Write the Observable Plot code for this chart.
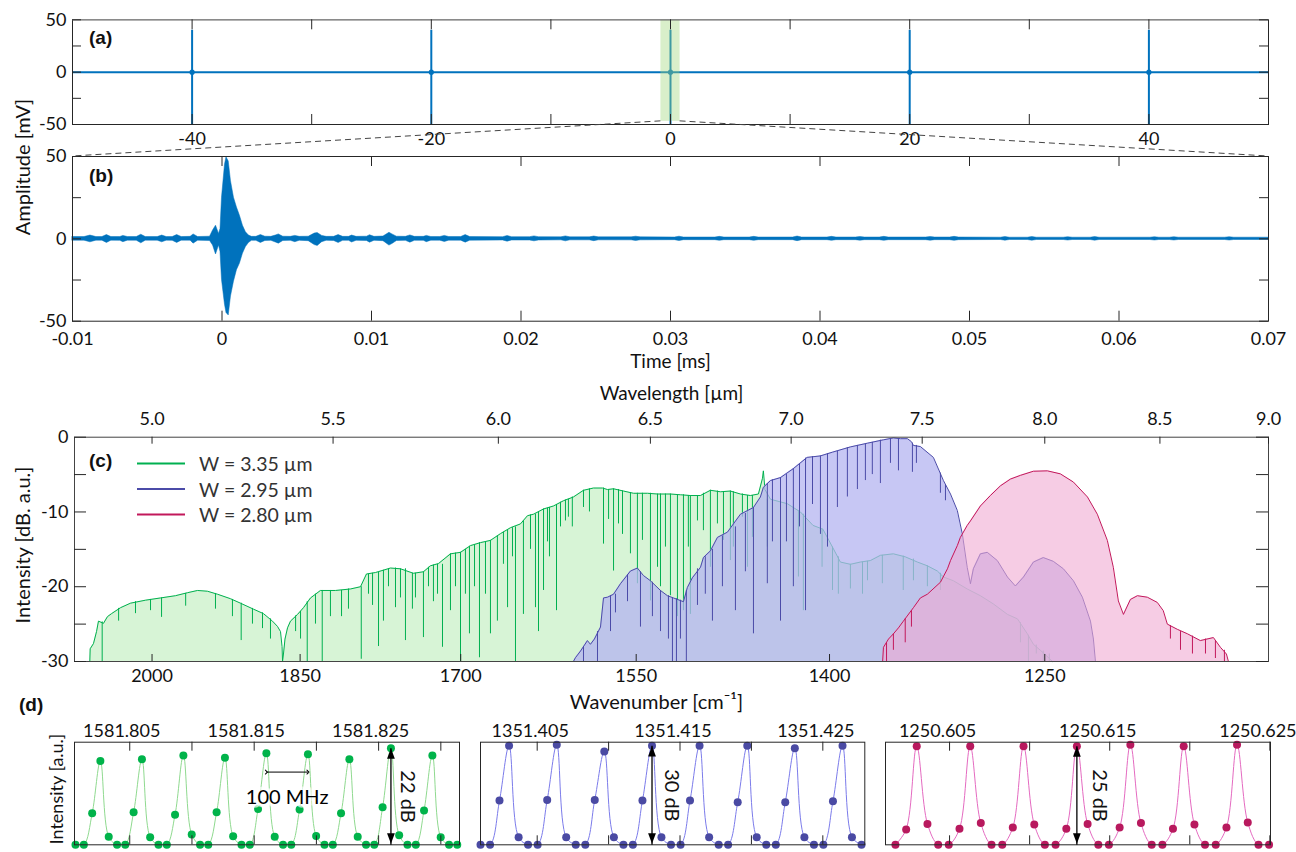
<!DOCTYPE html>
<html><head><meta charset="utf-8">
<script src="https://cdn.jsdelivr.net/npm/d3@7"></script>
<script src="https://cdn.jsdelivr.net/npm/@observablehq/plot@0.6"></script>
<style>
html,body{margin:0;padding:0;background:#fff;}
#fig{position:relative;width:1296px;height:852px;overflow:hidden;font-family:Lato,sans-serif;background:#fff;}
</style></head><body><div id="fig"></div>
<script>
// ================= DATA =================
// (a) overview of the pulse train
const pulseTimes = [-40, -20, 0, 20, 40];
const pulseHigh = [40, 40, 40, 40, 40];
const pulseLow = [-50, -50, -50, -50, -50];
const zoomWindow = [-0.8, 0.8];
const zoomBandLow = -47;
const overviewDomain = [-50, 50];
const overviewTicks = [-40, -30, -20, -10, 0, 10, 20, 30, 40];
const overviewLabels = [-40, -20, 0, 20, 40];
const ampDomain = [-50, 50];
const ampTicks = [-50, -25, 0, 25, 50];
const ampLabels = [-50, 0, 50];

// (b) single interferogram: envelope [time ms, upper mV, lower mV]
const timeDomain = [-0.01, 0.07];
const timeTicks = [-0.01, 0, 0.01, 0.02, 0.03, 0.04, 0.05, 0.06, 0.07];
const waveEnvelope = [
  [-0.0100, 1.1, -1.1], [-0.0092, 1.1, -1.1], [-0.0088, 2.0, -2.1], [-0.0084, 1.1, -1.1],
  [-0.0080, 1.1, -1.1], [-0.0077, 2.3, -2.5], [-0.0074, 1.1, -1.1], [-0.0068, 1.1, -1.2],
  [-0.0066, 1.8, -2.0], [-0.0063, 1.1, -1.1], [-0.0057, 1.1, -1.1], [-0.0054, 2.5, -2.7],
  [-0.0051, 1.1, -1.1], [-0.0043, 1.1, -1.1], [-0.0040, 2.0, -2.1], [-0.0037, 1.1, -1.1],
  [-0.0033, 1.1, -1.2], [-0.0030, 2.3, -2.5], [-0.0027, 1.1, -1.1], [-0.0021, 1.2, -1.1],
  [-0.0019, 2.7, -2.9], [-0.0016, 1.1, -1.1], [-0.0008, 1.3, -1.3], [-0.0006, 5, -4],
  [-0.0004, 8, -9.5], [-0.0002, 3, -4], [-0.0001, 6, -8], [0.0000, 25, -25],
  [0.0002, 45, -40], [0.0003, 49.5, -45], [0.00045, 47, -46.5], [0.0006, 35, -35],
  [0.0008, 25, -26], [0.0010, 19, -19], [0.0012, 14, -15], [0.0014, 8, -9],
  [0.0016, 4, -5], [0.0018, 2, -2.5], [0.0020, 1.2, -1.2], [0.0023, 1.2, -1.2],
  [0.0026, 2.3, -2.5], [0.0029, 1.3, -1.3], [0.0033, 1.2, -1.2], [0.0036, 2.0, -2.2],
  [0.0038, 2.7, -2.9], [0.0041, 1.3, -1.3], [0.0046, 1.2, -1.2], [0.0049, 1.8, -2.0],
  [0.0052, 1.2, -1.2], [0.0058, 1.3, -1.4], [0.0062, 3.2, -3.8], [0.0064, 3.5, -4.3],
  [0.0067, 1.8, -2.0], [0.0070, 1.2, -1.2], [0.0075, 1.2, -1.3], [0.0078, 2.3, -2.5],
  [0.0081, 1.2, -1.2], [0.0085, 1.2, -1.2], [0.0087, 2.0, -2.2], [0.0090, 1.2, -1.2],
  [0.0097, 1.3, -1.3], [0.0099, 2.2, -2.3], [0.0102, 1.2, -1.2], [0.0108, 1.4, -1.4],
  [0.0112, 3.7, -4.1], [0.0114, 2.7, -3.1], [0.0117, 1.3, -1.3], [0.0123, 1.2, -1.2],
  [0.0126, 2.1, -2.3], [0.0129, 1.2, -1.2], [0.0135, 1.2, -1.2], [0.0137, 1.8, -2.0],
  [0.0140, 1.1, -1.1], [0.0146, 1.1, -1.1], [0.0149, 1.8, -1.9], [0.0152, 1.1, -1.1],
  [0.0160, 1.1, -1.1], [0.0163, 2.3, -2.3], [0.0166, 1.1, -1.1], [0.0188, 1.0, -1.0],
  [0.0191, 1.7, -1.7], [0.0194, 1.0, -1.0], [0.0206, 1.0, -1.0], [0.0209, 1.5, -1.5],
  [0.0212, 1.0, -1.0], [0.0227, 0.9, -0.9], [0.0230, 1.5, -1.5], [0.0233, 0.9, -0.9],
  [0.0246, 0.9, -0.9], [0.0249, 1.4, -1.4], [0.0252, 0.9, -0.9], [0.0274, 0.9, -0.9],
  [0.0277, 1.3, -1.3], [0.0280, 0.9, -0.9], [0.0303, 0.8, -0.8], [0.0306, 1.3, -1.3],
  [0.0309, 0.8, -0.8], [0.0330, 0.8, -0.8], [0.0333, 1.2, -1.2], [0.0336, 0.8, -0.8],
  [0.0353, 0.8, -0.8], [0.0356, 1.2, -1.2], [0.0359, 0.8, -0.8], [0.0382, 0.8, -0.8],
  [0.0385, 1.4, -1.4], [0.0388, 0.8, -0.8], [0.0405, 0.8, -0.8], [0.0408, 1.2, -1.2],
  [0.0411, 0.8, -0.8], [0.0424, 0.8, -0.8], [0.0427, 1.1, -1.1], [0.0430, 0.8, -0.8],
  [0.0440, 0.8, -0.8], [0.0443, 1.2, -1.2], [0.0446, 0.8, -0.8], [0.0471, 0.8, -0.8],
  [0.0474, 1.1, -1.1], [0.0477, 0.8, -0.8], [0.0487, 0.8, -0.8], [0.0490, 1.2, -1.2],
  [0.0493, 0.8, -0.8], [0.0521, 0.7, -0.7], [0.0524, 1.1, -1.1], [0.0527, 0.7, -0.7],
  [0.0539, 0.7, -0.7], [0.0542, 1.1, -1.1], [0.0545, 0.7, -0.7], [0.0563, 0.7, -0.7],
  [0.0566, 1.0, -1.0], [0.0569, 0.7, -0.7], [0.0581, 0.7, -0.7], [0.0584, 1.1, -1.1],
  [0.0587, 0.7, -0.7], [0.0621, 0.7, -0.7], [0.0624, 1.0, -1.0], [0.0627, 0.7, -0.7],
  [0.0634, 0.7, -0.7], [0.0637, 1.0, -1.0], [0.0640, 0.7, -0.7], [0.0671, 0.7, -0.7],
  [0.0674, 1.0, -1.0], [0.0677, 0.7, -0.7], [0.0700, 0.7, -0.7]
];

// (c) spectra: [wavenumber cm-1, intensity dB]; dips: [wavenumber, top dB, bottom dB]
const wavelengthDomain = [4.8, 9.0];
const wavelengthTicks = [5.0, 5.5, 6.0, 6.5, 7.0, 7.5, 8.0, 8.5, 9.0];
const wavenumberTicks = [2000, 1850, 1700, 1550, 1400, 1250];
const intensityDomain = [-30, 0];
const intensityTicks = [0, -5, -10, -15, -20, -25, -30];
const intensityLabels = [0, -10, -20, -30];
const seriesNames = ["W = 3.35 µm", "W = 2.95 µm", "W = 2.80 µm"];

const greenSpectrum = [
  [2066.6, -30], [2066.2, -28.3], [2062.6, -27.6], [2059.3, -26.0], [2057.2, -24.6], [2051.8, -24.9],
  [2047.5, -24.0], [2043.1, -23.6], [2033.4, -22.8], [2022.8, -22.2], [2006.9, -21.8], [1991.1, -21.5],
  [1975.5, -21.2], [1963.0, -20.8], [1952.7, -20.5], [1942.5, -20.6], [1932.3, -21.0], [1919.1, -21.6],
  [1909.0, -22.2], [1896.0, -23.0], [1886.0, -23.6], [1877.1, -24.6], [1872.2, -25.3], [1869.2, -26.0],
  [1867.7, -28.0], [1867.2, -30], [1866.3, -29], [1864.8, -27], [1862.3, -25.5], [1859.4, -24.6],
  [1852.5, -23.7], [1846.7, -22.8], [1839.9, -21.5], [1830.3, -20.5], [1815.9, -20.5], [1801.6, -20.3],
  [1792.1, -20.0], [1786.5, -18.3], [1778.0, -18.1], [1764.0, -17.5], [1754.8, -17.6], [1742.9, -18.2],
  [1733.7, -18.0], [1727.3, -17.2], [1720.0, -16.9], [1709.2, -15.6], [1700.2, -15.4], [1691.3, -14.5],
  [1682.4, -14.1], [1673.6, -13.8], [1664.8, -12.9], [1656.0, -12.1], [1647.4, -11.6], [1641.3, -10.5],
  [1636.1, -10.3], [1627.5, -9.6], [1619.0, -9.2], [1610.5, -8.5], [1602.1, -8.0], [1593.6, -7.1],
  [1585.3, -6.8], [1577.7, -6.8], [1573.6, -7.0], [1568.6, -6.9], [1560.4, -7.2], [1552.2, -7.5],
  [1540.8, -7.5], [1532.7, -7.6], [1522.3, -7.6], [1514.3, -7.7], [1506.4, -7.8], [1498.4, -7.8],
  [1490.6, -7.1], [1482.7, -7.3], [1475.0, -7.2], [1467.2, -7.6], [1459.5, -7.8], [1453.4, -7.6],
  [1450.3, -5.5], [1449.6, -4.5], [1448.4, -7.0], [1444.2, -8.3], [1431.4, -8.9], [1421.6, -10.0],
  [1412.2, -11.8], [1404.9, -12.3], [1397.8, -14.7], [1392.0, -16.7], [1384.7, -17.0], [1377.4, -16.7],
  [1370.2, -16.5], [1363.0, -15.8], [1353.7, -15.6], [1345.3, -16.0], [1336.7, -16.7], [1329.7, -17.2],
  [1322.7, -17.9], [1318.5, -18.7], [1311.6, -19.2], [1302.1, -20.3], [1293.1, -21.2], [1284.3, -22.3],
  [1274.8, -23.7], [1268.1, -24.3], [1261.5, -26.3], [1257.5, -27.7], [1252.9, -28.5], [1249.0, -29.2],
  [1245.0, -30]
];
const greenDips = [
  [2053.2, -24.7, -30], [2035.5, -22.9, -24.6], [2017.5, -22.0, -23.6], [2001.6, -21.7, -23.2],
  [1990.0, -21.5, -24.1], [1964.9, -20.9, -22.6], [1934.3, -20.9, -23.0], [1917.1, -21.7, -24.0],
  [1908.3, -22.2, -27.2], [1897.0, -22.9, -25.0], [1887.0, -23.5, -25.6], [1879.1, -24.3, -27.0],
  [1854.4, -23.9, -26.0], [1849.6, -23.3, -27.0], [1843.1, -22.0, -30], [1835.1, -21.0, -25.0],
  [1828.6, -20.5, -30], [1820.7, -20.5, -24.0], [1810.1, -20.5, -24.0], [1803.5, -20.3, -23.0],
  [1791.4, -20.0, -29.7], [1784.6, -18.3, -21.0], [1780.8, -18.2, -22.5], [1775.2, -18.1, -28.0],
  [1770.6, -17.8, -24.6], [1765.9, -17.6, -20.0], [1759.4, -17.5, -22.8], [1754.8, -17.6, -21.5],
  [1750.2, -17.6, -27.2], [1743.8, -18.2, -23.0], [1741.0, -18.2, -21.5], [1733.7, -18.0, -26.8],
  [1729.1, -17.4, -20.0], [1724.6, -17.1, -22.0], [1720.9, -17.0, -21.0], [1716.4, -17.0, -28.1],
  [1709.2, -15.6, -23.2], [1704.7, -15.5, -20.0], [1700.2, -15.4, -30], [1695.8, -15.0, -21.0],
  [1692.2, -14.6, -26.3], [1687.7, -14.4, -20.0], [1683.3, -14.1, -29.5], [1678.0, -14.0, -21.0],
  [1673.6, -13.8, -26.3], [1667.5, -13.2, -24.6], [1662.2, -12.7, -17.0], [1658.6, -12.4, -22.8],
  [1654.3, -12.1, -16.0], [1651.7, -12.0, -30], [1644.8, -11.2, -23.7], [1638.7, -10.4, -15.0],
  [1634.4, -10.3, -22.8], [1631.8, -10.0, -26.0], [1627.5, -9.6, -20.5], [1624.1, -9.5, -14.0],
  [1622.4, -9.4, -16.0], [1616.4, -9.0, -23.2], [1613.0, -8.7, -12.0],
  [1608.8, -8.4, -11.2], [1606.3, -8.3, -10.7], [1603.0, -8.0, -12.0], [1593.6, -7.1, -9.4],
  [1588.6, -6.9, -10.0], [1576.9, -6.8, -14.3], [1572.7, -7.0, -11.0], [1568.6, -6.9, -17.9],
  [1564.5, -7.0, -11.6], [1561.2, -7.2, -13.0], [1554.7, -7.4, -15.6], [1549.0, -7.5, -19.6],
  [1544.9, -7.5, -13.8], [1538.4, -7.5, -21.9], [1532.7, -7.6, -17.4], [1530.3, -7.6, -20.0],
  [1526.3, -7.6, -14.7], [1522.3, -7.6, -21.2], [1516.7, -7.7, -24.0], [1511.9, -7.7, -23.2],
  [1508.0, -7.8, -14.7], [1506.4, -7.8, -23.7], [1500.8, -7.8, -11.2], [1496.1, -7.5, -12.5],
  [1490.6, -7.1, -17.4], [1485.1, -7.2, -11.6], [1480.4, -7.3, -13.8], [1475.0, -7.2, -16.5],
  [1472.7, -7.3, -14.7], [1465.7, -7.6, -10.7], [1461.8, -7.8, -17.4], [1458.0, -7.8, -13.4],
  [1446.6, -8.3, -14.7], [1423.1, -9.8, -18.7], [1419.4, -10.3, -23.2], [1405.5, -12.3, -17.4],
  [1397.8, -14.7, -20.5], [1393.5, -16.0, -21.0], [1384.7, -17.0, -20.3], [1375.9, -16.7, -21.0],
  [1372.3, -16.6, -19.2], [1361.6, -15.8, -19.6], [1346.7, -15.9, -20.5], [1339.5, -16.3, -19.2],
  [1329.7, -17.2, -20.0], [1320.6, -18.2, -20.5], [1266.1, -24.8, -27.5], [1260.8, -26.5, -30],
  [1255.6, -27.8, -29.0], [1251.0, -28.6, -30], [1247.0, -29.0, -30]
];

const blueSpectrum = [
  [1602.1, -30], [1600.4, -29.5], [1596.1, -28.6], [1590.3, -27.2], [1587.8, -27.7], [1584.5, -27.0],
  [1579.4, -25.4], [1576.9, -21.5], [1573.6, -21.4], [1568.6, -21.0], [1562.9, -19.6], [1554.7, -17.9],
  [1549.0, -17.5], [1544.1, -18.5], [1538.4, -19.2], [1530.3, -20.5], [1524.7, -21.2], [1519.9, -21.5],
  [1511.9, -22.0], [1508.8, -20.1], [1504.8, -18.8], [1498.4, -17.4], [1496.1, -16.1], [1490.6, -15.2],
  [1485.1, -13.4], [1477.3, -12.7], [1467.2, -10.3], [1457.2, -9.4], [1451.9, -8.0], [1449.6, -6.7],
  [1444.2, -5.8], [1436.6, -5.4], [1426.9, -4.2], [1416.6, -2.7], [1406.7, -2.5], [1397.8, -2.0],
  [1384.7, -1.3], [1372.3, -0.8], [1360.8, -0.35], [1353.7, -0.1], [1348.7, -0.2], [1343.7, -0.2],
  [1340.9, -0.6], [1339.5, -1.1], [1334.6, -1.25], [1325.5, -2.7], [1318.5, -5.8], [1313.6, -7.6],
  [1308.9, -9.8], [1305.4, -13.0], [1302.1, -17.4], [1299.9, -19.6], [1297.9, -17.6], [1293.1, -15.6],
  [1288.4, -15.4], [1281.6, -16.5], [1274.8, -18.7], [1269.5, -19.9], [1264.1, -18.7], [1257.5, -16.7],
  [1251.0, -16.1], [1244.4, -16.6], [1237.8, -17.6], [1231.3, -19.2], [1225.5, -21.4], [1220.3, -24.6],
  [1218.4, -27.0], [1217.1, -30]
];
const blueDips = [
  [1593.6, -28.0, -30], [1581.9, -26.0, -30], [1571.1, -21.2, -26.0], [1567.0, -21.0, -23.5],
  [1557.1, -18.4, -22.0], [1546.5, -18.0, -25.4], [1536.8, -19.4, -24.0], [1530.3, -20.5, -26.0],
  [1523.9, -21.2, -27.0], [1520.7, -21.5, -30], [1517.5, -21.6, -30], [1514.3, -21.8, -27.0],
  [1509.6, -20.5, -30], [1500.8, -17.6, -22.5], [1494.6, -16.0, -21.0], [1489.0, -15.0, -24.6],
  [1481.2, -13.2, -20.0], [1471.1, -12.0, -23.2], [1463.4, -10.2, -18.0], [1457.2, -9.4, -26.3],
  [1446.6, -6.2, -19.6], [1442.7, -5.7, -14.0], [1436.6, -5.4, -24.6], [1432.1, -5.0, -14.0],
  [1426.9, -4.2, -20.0], [1422.3, -3.6, -12.0], [1417.8, -2.8, -23.2], [1412.6, -2.6, -9.0],
  [1406.7, -2.5, -13.0], [1401.5, -2.2, -14.7], [1394.2, -1.9, -9.4], [1386.9, -1.4, -8.0],
  [1379.6, -1.1, -7.0], [1373.8, -0.9, -5.8], [1368.8, -0.7, -5.0], [1363.0, -0.4, -6.2],
  [1355.8, -0.2, -3.5], [1350.1, -0.2, -4.5], [1340.2, -0.8, -4.7], [1337.4, -1.1, -3.5],
  [1320.6, -4.8, -7.5], [1317.1, -6.4, -8.5]
];

const pinkSpectrum = [
  [1361.4, -30], [1360.8, -28.1], [1357.2, -27.0], [1353.7, -26.3], [1350.1, -25.5], [1346.6, -24.6],
  [1339.5, -22.8], [1334.6, -21.5], [1329.7, -21.0], [1320.6, -19.4], [1315.7, -17.6], [1313.6, -16.5],
  [1308.9, -14.5], [1306.8, -13.4], [1302.1, -11.8], [1299.9, -11.2], [1293.1, -9.2], [1286.3, -7.8],
  [1279.5, -6.5], [1272.8, -5.6], [1266.1, -5.1], [1257.5, -4.55], [1248.3, -4.5], [1239.8, -4.9],
  [1231.3, -6.0], [1222.2, -8.0], [1215.9, -10.3], [1209.5, -13.8], [1205.7, -17.4], [1202.5, -21.9],
  [1199.3, -23.7], [1194.9, -21.7], [1190.5, -21.2], [1184.3, -21.4], [1178.1, -22.1], [1174.4, -23.2],
  [1171.9, -25.0], [1165.7, -25.7], [1159.5, -26.3], [1151.7, -27.2], [1143.8, -26.8], [1139.6, -28.1],
  [1136.0, -29.0], [1134.8, -30]
];
const pinkDips = [
  [1358.6, -27.5, -30], [1353.7, -26.3, -28.5], [1345.3, -24.3, -27.5], [1340.9, -23.2, -25.4],
  [1170.0, -25.2, -27.0], [1163.8, -26.0, -28.5], [1156.5, -26.6, -29.0], [1148.6, -27.0, -29.0],
  [1142.6, -27.2, -29.6], [1137.2, -28.5, -30]
];

// (d) comb lines (wavenumber cm-1, intensity dB)
const comb1X = [1581.80064, 1581.80131, 1581.80198, 1581.80264, 1581.80331, 1581.80398, 1581.80464, 1581.80531,
  1581.80598, 1581.80664, 1581.80731, 1581.80798, 1581.80864, 1581.80931, 1581.80998, 1581.81065, 1581.81131,
  1581.81198, 1581.81265, 1581.81331, 1581.81398, 1581.81465, 1581.81531, 1581.81598, 1581.81665, 1581.81732,
  1581.81798, 1581.81865, 1581.81932, 1581.81998, 1581.82065, 1581.82132, 1581.82198, 1581.82265, 1581.82332,
  1581.82399, 1581.82465, 1581.82532, 1581.82599, 1581.82665, 1581.82732, 1581.82799, 1581.82865, 1581.82932,
  1581.82999, 1581.83066, 1581.83132];
const comb1Y = [-22, -22, -14.95, -3.2, -20.2, -22, -22, -14.7, -2.85, -20.3, -22, -22, -15.25, -1.96, -19.7,
  -22, -22, -14.7, -2.5, -20.1, -22, -22, -14.0, -1.5, -20.2, -22, -22, -14.06, -1.7, -20.0, -22, -22, -14.95,
  -2.85, -20.2, -22, -22, -13.6, -0.33, -19.85, -22, -22, -14.3, -1.96, -20.3, -22, -22];
const comb2X = [1351.40103, 1351.40170, 1351.40236, 1351.40303, 1351.40370, 1351.40436, 1351.40503, 1351.40570,
  1351.40637, 1351.40703, 1351.40770, 1351.40837, 1351.40903, 1351.40970, 1351.41037, 1351.41104, 1351.41170,
  1351.41237, 1351.41304, 1351.41370, 1351.41437, 1351.41504, 1351.41570, 1351.41637, 1351.41704, 1351.41771,
  1351.41837, 1351.41904, 1351.41971, 1351.42037, 1351.42104, 1351.42171, 1351.42237, 1351.42304, 1351.42371,
  1351.42438, 1351.42504, 1351.42571, 1351.42638, 1351.42704, 1351.42771];
const comb2Y = [-30, -30, -16.6, 0, -27.7, -30, -30, -16.4, 0.3, -27.7, -30, -30, -16.4, -1.7, -27.7, -30, -30,
  -16.6, 0, -27.7, -30, -30, -16.6, 0, -27.7, -30, -30, -17.1, 0, -27.7, -30, -30, -17.1, -0.7, -27.7, -30, -30,
  -16.8, 0, -27.7, -30];
const comb3X = [1250.60162, 1250.60229, 1250.60295, 1250.60362, 1250.60429, 1250.60495, 1250.60562, 1250.60629,
  1250.60695, 1250.60762, 1250.60829, 1250.60895, 1250.60962, 1250.61029, 1250.61095, 1250.61162, 1250.61229,
  1250.61295, 1250.61362, 1250.61429, 1250.61495, 1250.61562, 1250.61629, 1250.61695, 1250.61762, 1250.61829,
  1250.61895, 1250.61962, 1250.62029, 1250.62095, 1250.62162, 1250.62229, 1250.62295, 1250.62362, 1250.62429,
  1250.62495];
const comb3Y = [-25, -21.1, 0, -19.7, -25, -25, -20.95, 0, -19.5, -25, -25, -20.6, 0, -19.85, -25, -25, -20.95,
  0, -19.7, -25, -25, -20.6, 0.35, -19.5, -25, -25, -20.95, 0, -19.85, -25, -25, -20.6, 0.35, -19.35, -25, -25];
const comb1Domain = [1581.80056, 1581.8315];
const comb2Domain = [1351.40103, 1351.42794];
const comb3Domain = [1250.601, 1250.62504];
const comb1YDomain = [-22, 1];
const comb2YDomain = [-30, 1.1];
const comb3YDomain = [-25, 1];
const comb1Ticks = [1581.805, 1581.81, 1581.815, 1581.82, 1581.825, 1581.83];
const comb2Ticks = [1351.405, 1351.41, 1351.415, 1351.42, 1351.425];
const comb3Ticks = [1250.605, 1250.61, 1250.615, 1250.62, 1250.625];
const comb1Labels = [1581.805, 1581.815, 1581.825];
const comb2Labels = [1351.405, 1351.415, 1351.425];
const comb3Labels = [1250.605, 1250.615, 1250.625];
const combDepthLabels = ["22 dB", "30 dB", "25 dB"];
const combDepthPeak = [38, 18, 17];
const spacingPeaks = [23, 28];
const spacingLevel = -5.7;
const spacingLabelLevel = -11.5;
const spacingLabel = "100 MHz";

// ================= STYLE =================
const fig = document.getElementById("fig");
const axisColor = "#262626";
const traceBlue = "#0072bd";
const lineColors = ["#00b050", "#4b4ba8", "#c2185b"];
const fillColors = ["#5fd35a", "#b4b4f0", "#f0aad2"];
const fillOpac = [0.25, 0.75, 0.6];
const combDot = ["#00b34a", "#4a4aa3", "#b8195e"];
const combLine = ["#8fd98f", "#7b7bea", "#e46ac0"];
const baseStyle = {background: "transparent", fontFamily: "Lato, 'DejaVu Sans', sans-serif", fontSize: "18px", color: "#111", overflow: "visible"};

function place(svg, left, top) {
  svg.style.position = "absolute";
  svg.style.left = left + "px";
  svg.style.top = top + "px";
  fig.appendChild(svg);
  return svg;
}
function frameTicks(o) {
  const H = o.height - o.marginTop - o.marginBottom;
  const Wd = o.width - o.marginLeft - o.marginRight;
  const m = [];
  if (o.xBottom) m.push(Plot.tickX(o.xBottom, {x: d => d, insetTop: H - o.xLen, stroke: axisColor}));
  if (o.xTop) m.push(Plot.tickX(o.xTop, {x: d => d, insetBottom: H - o.xLen, stroke: axisColor}));
  if (o.yTicks) {
    m.push(Plot.tickY(o.yTicks, {y: d => d, insetRight: Wd - o.yLen, stroke: axisColor}));
    m.push(Plot.tickY(o.yTicks, {y: d => d, insetLeft: Wd - o.yLen, stroke: axisColor}));
  }
  return m;
}
const upTri = {draw(ctx, size) { const h = Math.sqrt(size) * 1.5, w = Math.sqrt(size) * 0.55; ctx.moveTo(0, 0); ctx.lineTo(-w, h); ctx.lineTo(w, h); ctx.closePath(); }};
const downTri = {draw(ctx, size) { const h = Math.sqrt(size) * 1.5, w = Math.sqrt(size) * 0.55; ctx.moveTo(0, 0); ctx.lineTo(-w, -h); ctx.lineTo(w, -h); ctx.closePath(); }};
const fmtNum = d => (d === 0 ? "0" : String(d));

// ================= (a) =================
const A = {width: 1296, height: 150, marginLeft: 72, marginRight: 28, marginTop: 19.3, marginBottom: 26, left: 0, top: 0};
const plotA = Plot.plot({
  ...A, style: baseStyle,
  x: {domain: overviewDomain}, y: {domain: ampDomain},
  marks: [
    Plot.ruleY([0], {y: d => d, stroke: traceBlue, strokeWidth: 2}),
    Plot.ruleX(pulseTimes, {x: d => d, y1: (d, i) => pulseLow[i], y2: (d, i) => pulseHigh[i], stroke: traceBlue, strokeWidth: 2}),
    Plot.dot(pulseTimes, {x: d => d, y: () => 0, r: 2.6, fill: traceBlue}),
    Plot.rect([0], {x1: () => zoomWindow[0], x2: () => zoomWindow[1], y1: () => zoomBandLow, y2: () => ampDomain[1], fill: "#9fd67a", fillOpacity: 0.4}),
    Plot.frame({stroke: axisColor}),
    Plot.ruleY([ampDomain[1]], {y: d => d, stroke: "#9a9a9a"}),
    ...frameTicks({...A, xBottom: overviewTicks, xTop: overviewTicks, xLen: 10, yTicks: ampTicks, yLen: 9}),
    Plot.axisX(overviewLabels, {tickSize: 0, tickPadding: 8, tickFormat: fmtNum, label: null}),
    Plot.axisY(ampLabels, {tickSize: 0, tickPadding: 6, tickFormat: fmtNum, label: null})
  ]
});
place(plotA, A.left, A.top);

// ================= (b) =================
const B = {width: 1296, height: 240, marginLeft: 72, marginRight: 28, marginTop: 16, marginBottom: 59.3, left: 0, top: 140};
const plotB = Plot.plot({
  ...B, style: baseStyle,
  x: {domain: timeDomain}, y: {domain: ampDomain},
  marks: [
    Plot.areaY(waveEnvelope, {x: d => d[0], y1: d => d[2], y2: d => d[1], fill: traceBlue, stroke: traceBlue, strokeWidth: 0.5}),
    Plot.frame({stroke: axisColor}),
    ...frameTicks({...B, xBottom: timeTicks, xTop: timeTicks, xLen: 10, yTicks: ampTicks, yLen: 9}),
    Plot.axisX(timeTicks, {tickSize: 0, tickPadding: 11, tickFormat: d => (d === 0 ? "0" : d.toFixed(2)), label: null}),
    Plot.axisY(ampLabels, {tickSize: 0, tickPadding: 6, tickFormat: fmtNum, label: null}),
    Plot.text(["Time [ms]"], {text: d => d, frameAnchor: "bottom", dy: 47, fontSize: 19})
  ]
});
place(plotB, B.left, B.top);

// ================= (c) =================
const C = {width: 1296, height: 330, marginLeft: 74, marginRight: 28, marginTop: 56.7, marginBottom: 49, left: 0, top: 380};
const spectra = [greenSpectrum, blueSpectrum, pinkSpectrum];
const dips = [greenDips, blueDips, pinkDips];
const specMarks = [];
spectra.forEach((s, k) => {
  specMarks.push(Plot.areaY(s, {x: d => d[0], y1: () => intensityDomain[0], y2: d => d[1], fill: fillColors[k], fillOpacity: fillOpac[k]}));
  specMarks.push(Plot.line(s, {x: d => d[0], y: d => d[1], stroke: lineColors[k], strokeWidth: 1}));
  specMarks.push(Plot.ruleX(dips[k], {x: d => d[0], y1: d => d[1], y2: d => d[2], stroke: lineColors[k], strokeWidth: 1}));
});
const plotC = Plot.plot({
  ...C, style: baseStyle,
  x: {type: "log", domain: [1e4 / wavelengthDomain[0], 1e4 / wavelengthDomain[1]]},
  y: {domain: intensityDomain},
  marks: [
    ...specMarks,
    Plot.frame({stroke: "#444"}),
    ...frameTicks({...C, xBottom: wavenumberTicks, xTop: wavelengthTicks.map(l => 1e4 / l), xLen: 7, yTicks: intensityTicks, yLen: 12}),
    Plot.axisX(wavelengthTicks.map(l => 1e4 / l), {anchor: "top", tickSize: 0, tickPadding: 12, tickFormat: v => (1e4 / v).toFixed(1), label: null}),
    Plot.axisX(wavenumberTicks, {anchor: "bottom", tickSize: 0, tickPadding: 8, tickFormat: d => String(d), label: null}),
    Plot.axisY(intensityLabels, {tickSize: 0, tickPadding: 6, tickFormat: fmtNum, label: null}),
    Plot.text(["Wavelength [µm]"], {text: d => d, frameAnchor: "top", dy: -51, fontSize: 19}),
    Plot.text(["Wavenumber [cm⁻¹]"], {text: d => d, frameAnchor: "bottom", dy: 47, dx: -15, fontSize: 20})
  ]
});
place(plotC, C.left, C.top);

// ================= (d) =================
function combPlot(cfg) {
  const o = {width: 1296, height: 152, marginTop: 41.7, marginBottom: 7.7, marginLeft: cfg.left, marginRight: 1296 - cfg.right};
  const X = cfg.X, Y = cfg.Y, p = cfg.peak, base = cfg.yDomain[0];
  const marks = [
    Plot.line(X, {x: d => d, y: (d, i) => Y[i], curve: "catmull-rom", stroke: cfg.lineColor, strokeWidth: 1, clip: true}),
    Plot.dot(X, {x: d => d, y: (d, i) => Y[i], r: 4, fill: cfg.dotColor}),
    Plot.frame({stroke: axisColor}),
    ...frameTicks({...o, xBottom: cfg.ticks, xTop: cfg.ticks, xLen: 9}),
    Plot.axisX(cfg.labels, {anchor: "top", tickSize: 0, tickPadding: 5, dx: cfg.labelDx, tickFormat: d => d.toFixed(3), label: null}),
    Plot.link([0], {x1: () => X[p], x2: () => X[p], y1: () => base, y2: () => Y[p], stroke: "black", strokeWidth: 1.3}),
    Plot.dot([0], {x: () => X[p], y: () => Y[p], symbol: upTri, r: 4, fill: "black", stroke: "none"}),
    Plot.dot([0], {x: () => X[p], y: () => base, symbol: downTri, r: 4, fill: "black", stroke: "none", dy: -1}),
    Plot.text([cfg.depthLabel], {text: d => d, x: () => X[p], y: () => (base + Y[p]) / 2, dx: cfg.depthDx, rotate: 90, fontSize: 20})
  ];
  if (cfg.spacing) {
    const [i1, i2] = spacingPeaks;
    marks.push(Plot.link([0], {x1: () => X[i1], x2: () => X[i2], y1: () => spacingLevel, y2: () => spacingLevel, stroke: "black", strokeWidth: 1, markerStart: "arrow", markerEnd: "arrow"}));
    marks.push(Plot.text([spacingLabel], {text: d => d, x: () => (X[i1] + X[i2]) / 2, y: () => spacingLabelLevel, fontSize: 20, fill: "black", stroke: "white", strokeWidth: 7, strokeOpacity: 0.7}));
  }
  const svg = Plot.plot({
    ...o, style: baseStyle,
    x: {domain: cfg.xDomain}, y: {domain: cfg.yDomain, axis: null},
    marks
  });
  return place(svg, 0, 700);
}
combPlot({left: 74, right: 459, X: comb1X, Y: comb1Y, xDomain: comb1Domain, yDomain: comb1YDomain, ticks: comb1Ticks, labels: comb1Labels, labelDx: -8, lineColor: combLine[0], dotColor: combDot[0], peak: combDepthPeak[0], depthLabel: combDepthLabels[0], depthDx: 16, spacing: true});
combPlot({left: 480, right: 864.3, X: comb2X, Y: comb2Y, xDomain: comb2Domain, yDomain: comb2YDomain, ticks: comb2Ticks, labels: comb2Labels, labelDx: -7, lineColor: combLine[1], dotColor: combDot[1], peak: combDepthPeak[1], depthLabel: combDepthLabels[1], depthDx: 19});
combPlot({left: 885, right: 1270, X: comb3X, Y: comb3Y, xDomain: comb3Domain, yDomain: comb3YDomain, ticks: comb3Ticks, labels: comb3Labels, labelDx: -12, lineColor: combLine[2], dotColor: combDot[2], peak: combDepthPeak[2], depthLabel: combDepthLabels[2], depthDx: 23});

// ================= overlay (connectors, panel letters, shared titles, legend) =================
const ov = d3.create("svg").attr("width", 1296).attr("height", 852)
  .style("position", "absolute").style("left", "0px").style("top", "0px").style("overflow", "visible")
  .style("font-family", "Lato, 'DejaVu Sans', sans-serif");
const ax = plotA.scale("x"), ay = plotA.scale("y"), bx = plotB.scale("x"), by = plotB.scale("y");
const bandL = [ax.apply(zoomWindow[0]) + A.left, ay.apply(zoomBandLow) + A.top];
const bandR = [ax.apply(zoomWindow[1]) + A.left, ay.apply(zoomBandLow) + A.top];
const bTop = by.apply(ampDomain[1]) + B.top;
const bL = bx.apply(timeDomain[0]) + B.left, bR = bx.apply(timeDomain[1]) + B.left;
[[bandL, [bL, bTop]], [bandR, [bR, bTop]]].forEach(([p, q]) => {
  ov.append("line").attr("x1", p[0]).attr("y1", p[1]).attr("x2", q[0]).attr("y2", q[1])
    .attr("stroke", "#444").attr("stroke-width", 1).attr("stroke-dasharray", "6,4");
});
const panelLetters = [["(a)", 89, 37], ["(b)", 89, 175], ["(c)", 89, 460], ["(d)", 19, 704]];
panelLetters.forEach(([t, x, y]) => ov.append("text").attr("x", x).attr("y", y).attr("dominant-baseline", "central")
  .attr("font-family", "'Liberation Sans', Arial, sans-serif").attr("font-weight", "bold").attr("font-size", 19).attr("fill", "#111").text(t));
const vTitles = [["Amplitude [mV]", 22, 167, 20], ["Intensity [dB. a.u.]", 22, 545, 20], ["Intensity [a.u.]", 56, 789, 18]];
vTitles.forEach(([t, x, y, fs]) => ov.append("text").attr("transform", `translate(${x},${y}) rotate(-90)`)
  .attr("text-anchor", "middle").attr("dominant-baseline", "central").attr("font-size", fs).attr("fill", "#111").text(t));
seriesNames.forEach((name, k) => {
  const y = 463.5 + k * 25.5;
  ov.append("line").attr("x1", 137).attr("x2", 185).attr("y1", y).attr("y2", y).attr("stroke", lineColors[k]).attr("stroke-width", 2);
  ov.append("text").attr("x", 199).attr("y", y).attr("dominant-baseline", "central").attr("font-size", 19.5).attr("fill", "#333").text(name);
});
fig.appendChild(ov.node());
</script></body></html>
